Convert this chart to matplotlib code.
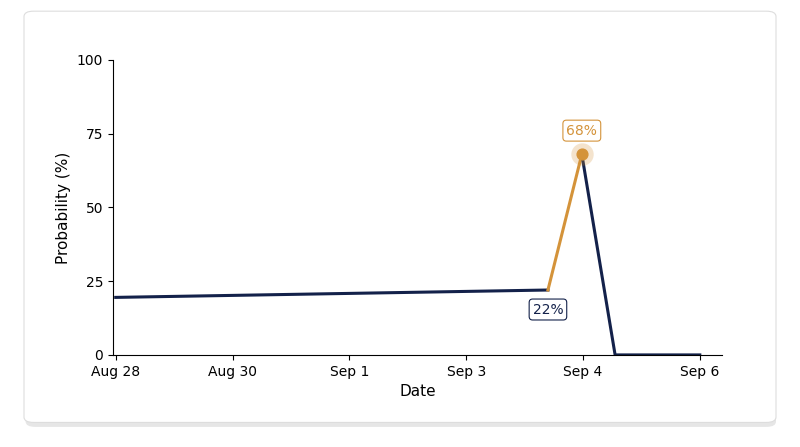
import matplotlib.pyplot as plt
from matplotlib.patches import FancyBboxPatch

# days since Aug 28
days = [0, 7.4, 7.98, 8.55, 10]
prob = [19.5, 22, 68, 0, 0]
tick_days = [0, 2, 4, 6, 8, 10]
tick_labels = ["Aug 28", "Aug 30", "Sep 1", "Sep 3", "Sep 4", "Sep 6"]

navy = "#13214a"
gold = "#d4933a"

fig = plt.figure(figsize=(8, 4.47), dpi=100)
fig.patch.set_facecolor("white")
shadow = FancyBboxPatch((0.032, 0.045), 0.938, 0.92, boxstyle="round,pad=0,rounding_size=0.012",
                        transform=fig.transFigure, fc="#e6e6e6", ec="none", zorder=-2)
card = FancyBboxPatch((0.03, 0.055), 0.94, 0.92, boxstyle="round,pad=0,rounding_size=0.012",
                      transform=fig.transFigure, fc="white", ec="#dddddd", lw=0.8, zorder=-1)
fig.patches.extend([shadow, card])

ax = fig.add_axes([0.141, 0.206, 0.7615, 0.66])
ax.patch.set_alpha(0)
ax.plot(days[:2], prob[:2], color=navy, lw=2.2)
ax.plot(days[1:3], prob[1:3], color=gold, lw=2.2)
ax.plot(days[2:], prob[2:], color=navy, lw=2.2)
ax.scatter([days[2]], [prob[2]], s=260, color=gold, alpha=0.25, lw=0, zorder=3)
ax.scatter([days[2]], [prob[2]], s=60, color=gold, zorder=4)

ax.annotate("68%", (days[2], prob[2]), xytext=(0, 12), textcoords="offset points", ha="center",
            va="bottom", fontsize=10, color=gold,
            bbox=dict(boxstyle="round,pad=0.25", fc="white", ec=gold, lw=0.8))
ax.annotate("22%", (days[1], prob[1]), xytext=(0, -9), textcoords="offset points", ha="center",
            va="top", fontsize=10, color=navy,
            bbox=dict(boxstyle="round,pad=0.25", fc="white", ec=navy, lw=0.8))

ax.set_xlim(-0.05, 10.38)
ax.set_ylim(0, 100)
ax.set_yticks([0, 25, 50, 75, 100])
ax.set_xticks(tick_days, tick_labels)
ax.tick_params(labelsize=10)
ax.spines[["top", "right"]].set_visible(False)
ax.set_xlabel("Date", fontsize=11)
ax.set_ylabel("Probability (%)", fontsize=11)

fig.savefig("out.png", dpi=100)
